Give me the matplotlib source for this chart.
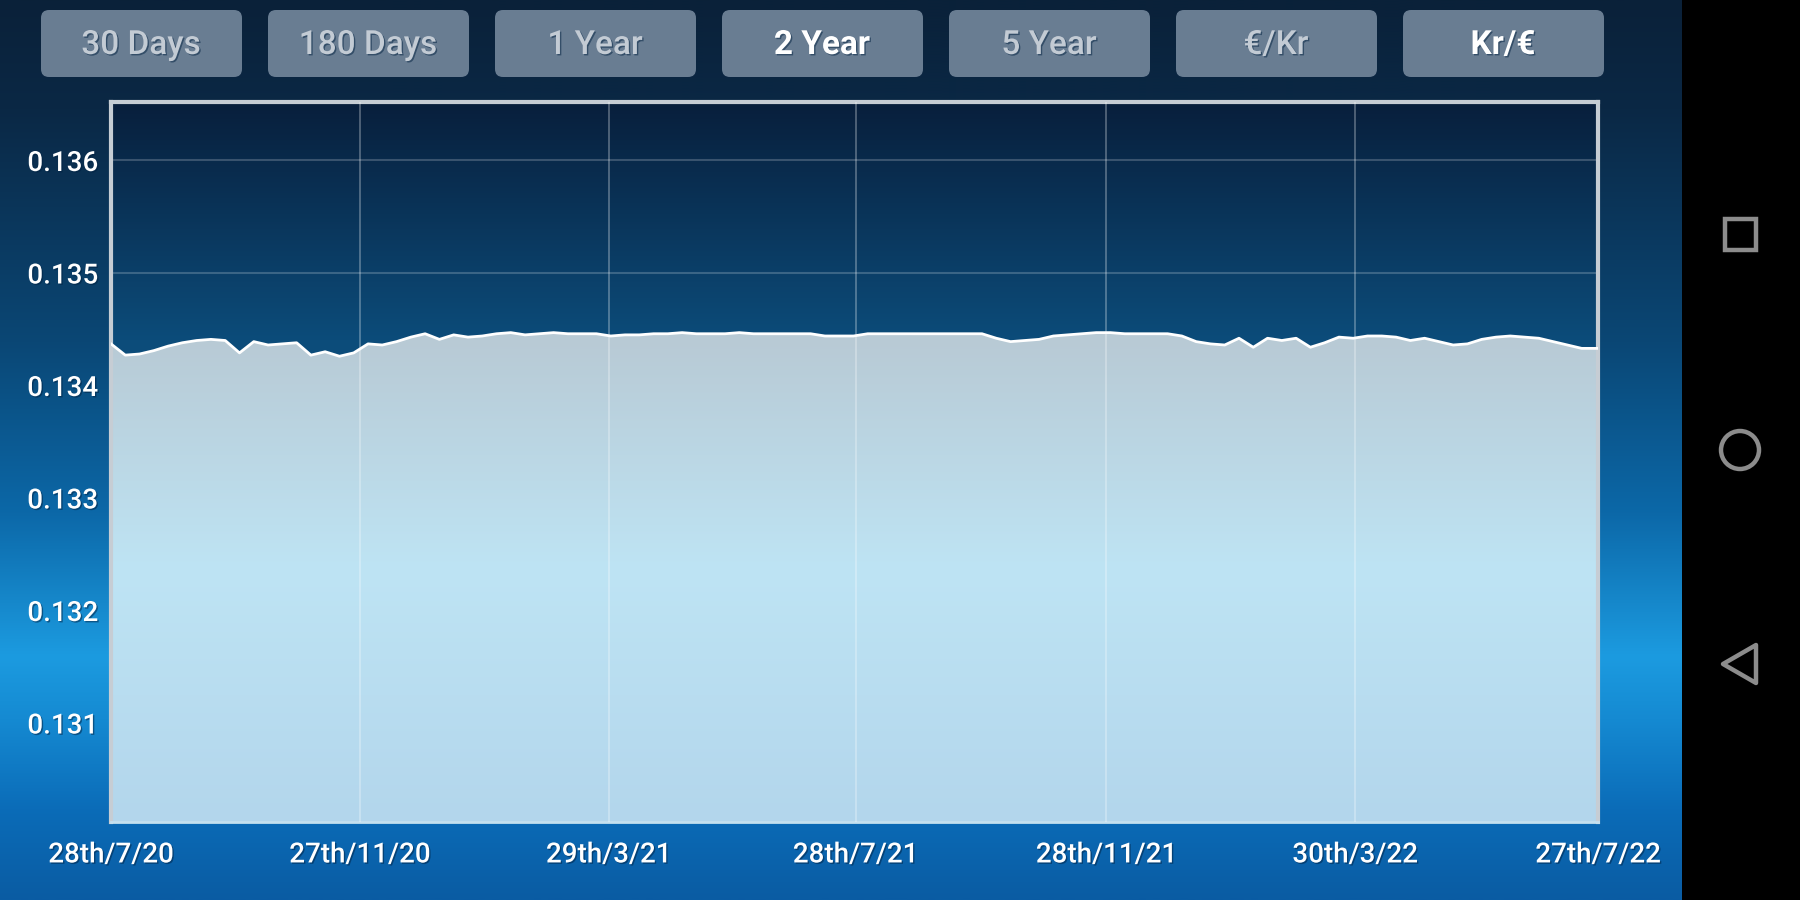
import numpy as np
import pandas as pd
import matplotlib
matplotlib.use('Agg')
import matplotlib.pyplot as plt
import matplotlib.dates as mdates
import matplotlib.patheffects as pe
from matplotlib.colors import to_rgb
from matplotlib.patches import FancyBboxPatch, Rectangle, Circle, Polygon

plt.rcParams['font.family'] = ['Roboto', 'DejaVu Sans']

# ---- data ----
buttons = ['30 Days', '180 Days', '1 Year', '2 Year', '5 Year', '€/Kr', 'Kr/€']
selected = ['2 Year', 'Kr/€']

tick_dates = ['2020-07-28', '2020-11-27', '2021-03-29', '2021-07-28',
              '2021-11-28', '2022-03-30', '2022-07-27']
tick_labels = ['28th/7/20', '27th/11/20', '29th/3/21', '28th/7/21',
               '28th/11/21', '30th/3/22', '27th/7/22']
y_ticks = [0.131, 0.132, 0.133, 0.134, 0.135, 0.136]

# weekly Kr -> EUR rate
rate = [0.13437, 0.13427, 0.13428, 0.13431, 0.13435, 0.13438, 0.13440, 0.13441, 0.13440, 0.13429,
        0.13439, 0.13436, 0.13437, 0.13438, 0.13427, 0.13430, 0.13426, 0.13429, 0.13437, 0.13436,
        0.13439, 0.13443, 0.13446, 0.13441, 0.13445, 0.13443, 0.13444, 0.13446, 0.13447, 0.13445,
        0.13446, 0.13447, 0.13446, 0.13446, 0.13446, 0.13444, 0.13445, 0.13445, 0.13446, 0.13446,
        0.13447, 0.13446, 0.13446, 0.13446, 0.13447, 0.13446, 0.13446, 0.13446, 0.13446, 0.13446,
        0.13444, 0.13444, 0.13444, 0.13446, 0.13446, 0.13446, 0.13446, 0.13446, 0.13446, 0.13446,
        0.13446, 0.13446, 0.13442, 0.13439, 0.13440, 0.13441, 0.13444, 0.13445, 0.13446, 0.13447,
        0.13447, 0.13446, 0.13446, 0.13446, 0.13446, 0.13444, 0.13439, 0.13437, 0.13436, 0.13442,
        0.13434, 0.13442, 0.13440, 0.13442, 0.13434, 0.13438, 0.13443, 0.13442, 0.13444, 0.13444,
        0.13443, 0.13440, 0.13442, 0.13439, 0.13436, 0.13437, 0.13441, 0.13443, 0.13444, 0.13443,
        0.13442, 0.13439, 0.13436, 0.13433, 0.13433, 0.13433]
dates = list(pd.date_range('2020-07-28', periods=105, freq='7D')) + [pd.Timestamp('2022-07-27')]


def vgrad(stops, n=300):
    pos = [s[0] for s in stops]
    cols = np.array([to_rgb(s[1]) for s in stops])
    t = np.linspace(0, 1, n)
    img = np.stack([np.interp(t, pos, cols[:, k]) for k in range(3)], axis=1)
    return img[:, None, :]


fig = plt.figure(figsize=(18, 9), dpi=100)

# ---- screen background, buttons, nav bar (pixel coords) ----
bg = fig.add_axes([0, 0, 1, 1], zorder=0)
bg.set_xlim(0, 1800)
bg.set_ylim(900, 0)
bg.axis('off')
bg.imshow(vgrad([(0, '#0a2139'), (0.12, '#0a2845'), (0.38, '#0a4775'), (0.57, '#0c68a8'),
                 (0.73, '#1c9be0'), (0.8, '#158ad2'), (0.9, '#0b6cb8'), (1, '#0a5ca3')]),
          extent=[0, 1800, 900, 0], aspect='auto')

shadow = [pe.withSimplePatchShadow(offset=(1, -1), shadow_rgbFace='#002040', alpha=0.5)]

for i, b in enumerate(buttons):
    x0 = 41 + i * 227
    bg.add_patch(FancyBboxPatch((x0, 10), 201, 67, boxstyle='round,pad=0,rounding_size=8',
                                fc='#697d92', ec='none'))
    sel = b in selected
    bg.text(x0 + 100, 45, b, ha='center', va='center', fontsize=24,
            color='white' if sel else '#c3cbd4', fontweight='bold' if sel else 'medium',
            path_effects=shadow)

bg.add_patch(Rectangle((1682, 0), 118, 900, fc='black', ec='none'))
gray = '#8c8c8c'
bg.add_patch(Rectangle((1725, 219), 31, 31, fc='none', ec=gray, lw=3.2))
bg.add_patch(Circle((1740, 450), 19, fc='none', ec=gray, lw=3.2))
bg.add_patch(Polygon([(1723, 664), (1756, 645), (1756, 683)], closed=True,
                     fc='none', ec=gray, lw=3.2, joinstyle='round'))

# ---- chart ----
ax = fig.add_axes([111 / 1800, 78 / 900, 1487 / 1800, 720 / 900], zorder=1)
ax.set_facecolor('none')
x = mdates.date2num(dates)
x0, x1 = x[0], x[-1]
ylo, yhi = 0.13012, 0.13652

ax.imshow(vgrad([(0, '#081f3c'), (0.33, '#0c4c7a'), (1, '#0e5a8e')]),
          extent=[x0, x1, ylo, yhi], aspect='auto', zorder=0)

for v in y_ticks:
    ax.axhline(v, color='white', alpha=0.2, lw=1.5, zorder=1)

poly = ax.fill_between(x, rate, ylo, color='none', lw=0, zorder=2)
im = ax.imshow(vgrad([(0, '#b8cad5'), (0.33, '#b8cad5'), (0.65, '#bee4f4'), (1, '#b3d6ec')]),
               extent=[x0, x1, ylo, yhi], aspect='auto', zorder=2)
im.set_clip_path(poly.get_paths()[0], transform=ax.transData)

tick_x = mdates.date2num(pd.to_datetime(tick_dates))
for t in tick_x[1:-1]:
    ax.axvline(t, color='white', alpha=0.3, lw=1.3, zorder=3)

ax.plot(x, rate, color='white', lw=2, zorder=4)

ax.set_xlim(x0, x1)
ax.set_ylim(ylo, yhi)
ax.set_xticks(tick_x)
ax.set_xticklabels(tick_labels)
ax.set_yticks(y_ticks)
ax.set_yticklabels([f'{v:.3f}' for v in y_ticks])
ax.tick_params(length=0, labelsize=20, labelcolor='white')
ax.tick_params(axis='y', pad=9)
ax.tick_params(axis='x', pad=14)
for lab in ax.get_xticklabels() + ax.get_yticklabels():
    lab.set_fontweight('medium')
    lab.set_path_effects(shadow)

for s in ['top', 'left', 'right']:
    ax.spines[s].set_color('#c6cdd4')
    ax.spines[s].set_linewidth(3)
ax.spines['bottom'].set_color('#c4e0ef')
ax.spines['bottom'].set_linewidth(2)

fig.savefig('out.png', dpi=100)
